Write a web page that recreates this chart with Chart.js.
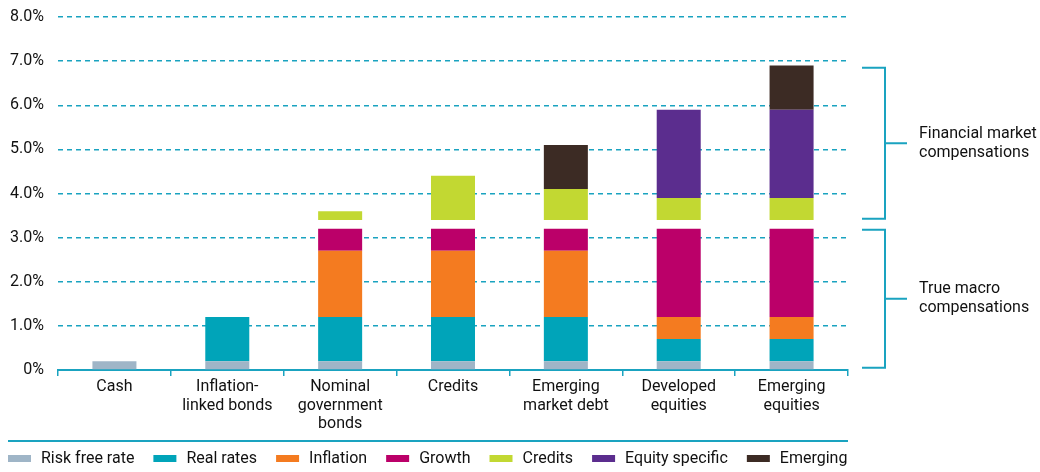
<!DOCTYPE html>
<html>
<head>
<meta charset="utf-8">
<script src="https://cdn.jsdelivr.net/npm/chart.js@4.4.0/dist/chart.umd.min.js"></script>
<style>
  html, body { margin: 0; padding: 0; background: #fff; }
  #wrap { width: 1040px; height: 472px; }
</style>
</head>
<body>
<div id="wrap"><canvas id="chart" width="1040" height="472"></canvas></div>
<script>
const categories = [
  "Cash",
  ["Inflation-", "linked bonds"],
  ["Nominal", "government", "bonds"],
  "Credits",
  ["Emerging", "market debt"],
  ["Developed", "equities"],
  ["Emerging", "equities"]
];

// true macro part, stacked up from 0
const riskFreeRate = [0.2, 0.2, 0.2, 0.2, 0.2, 0.2, 0.2];
const realRates    = [0,   1.0, 1.0, 1.0, 1.0, 0.5, 0.5];
const inflation    = [0,   0,   1.5, 1.5, 1.5, 0.5, 0.5];
const growth       = [0,   0,   0.5, 0.5, 0.5, 2.0, 2.0];
// financial market part, stacked up from 3.4
const credits        = [0, 0, 0.2, 1.0, 0.7, 0.5, 0.5];
const equitySpecific = [0, 0, 0,   0,   0,   2.0, 2.0];
const emerging       = [0, 0, 0,   0,   1.0, 0,   1.0];
const financialBase = 3.4;

const seriesNames = ["Risk free rate", "Real rates", "Inflation", "Growth", "Credits", "Equity specific", "Emerging"];
const yTickLabels = ["0%", "1.0%", "2.0%", "3.0%", "4.0%", "5.0%", "6.0%", "7.0%", "8.0%"];
const bracketLabels = [["Financial market", "compensations"], ["True macro", "compensations"]];
const bracketRanges = [[3.43, 6.85], [0.05, 3.18]];

const colors = ["#9fb5c7", "#00a4b9", "#f47b20", "#bb0069", "#c2d832", "#5b2d8e", "#3c2b24"];
const teal = "#1aa3c0";
const textColor = "#111111";
const FONT = "Roboto";

// turn segment sizes into [from, to] ranges
function floating(list, base) {
  const bottoms = categories.map(() => base);
  return list.map(s => s.map((v, i) => {
    if (!v) return null;
    const r = [bottoms[i], bottoms[i] + v];
    bottoms[i] += v;
    return r;
  }));
}

const ranges = floating([riskFreeRate, realRates, inflation, growth], 0)
  .concat(floating([credits, equitySpecific, emerging], financialBase));

const datasets = ranges.map((d, k) => ({
  label: seriesNames[k],
  data: d,
  backgroundColor: colors[k],
  borderWidth: 0,
  grouped: false,
  barPercentage: 0.39,
  categoryPercentage: 1
}));

const extras = {
  id: "extras",
  afterDraw(chart) {
    const ctx = chart.ctx;
    const y = chart.scales.y;
    const area = chart.chartArea;
    ctx.save();
    ctx.strokeStyle = teal;
    ctx.lineWidth = 2;
    ctx.font = "16px " + FONT;
    ctx.textBaseline = "middle";
    ctx.textAlign = "left";

    bracketRanges.forEach((r, k) => {
      const top = y.getPixelForValue(r[1]);
      const bot = y.getPixelForValue(r[0]);
      const mid = (top + bot) / 2;
      const x0 = area.right + 14, x1 = area.right + 37, x2 = area.right + 59;
      ctx.beginPath();
      ctx.moveTo(x0, top);
      ctx.lineTo(x1, top);
      ctx.lineTo(x1, bot);
      ctx.lineTo(x0, bot);
      ctx.moveTo(x1, mid);
      ctx.lineTo(x2, mid);
      ctx.stroke();
      ctx.fillStyle = textColor;
      bracketLabels[k].forEach((t, j) => ctx.fillText(t, area.right + 71, mid + (j - 0.5) * 19));
    });

    // legend
    ctx.beginPath();
    ctx.moveTo(8, 441);
    ctx.lineTo(area.right, 441);
    ctx.stroke();
    let x = 8;
    chart.data.datasets.forEach(ds => {
      ctx.fillStyle = ds.backgroundColor;
      ctx.fillRect(x, 455, 23, 7);
      ctx.fillStyle = textColor;
      ctx.fillText(ds.label, x + 33, 458.5);
      x += 33 + ctx.measureText(ds.label).width + 19;
    });
    ctx.restore();
  }
};

new Chart(document.getElementById("chart"), {
  type: "bar",
  data: { labels: categories, datasets: datasets },
  options: {
    responsive: false,
    animation: false,
    layout: { padding: { top: 17, right: 192, left: 0, bottom: 0 } },
    plugins: { legend: { display: false }, tooltip: { enabled: false } },
    scales: {
      x: {
        grid: { drawOnChartArea: false, drawTicks: true, tickLength: 6, color: teal, lineWidth: 1.5, offset: true },
        border: { color: teal, width: 2 },
        ticks: {
          color: textColor,
          font: { family: FONT, size: 16, lineHeight: 1.15 },
          padding: 2,
          maxRotation: 0,
          autoSkip: false
        },
        afterFit(s) { s.height = 102; }
      },
      y: {
        min: 0,
        max: 8,
        grid: { color: teal, lineWidth: 1.4, drawTicks: false },
        border: { display: false, dash: [5, 4] },
        ticks: {
          stepSize: 1,
          padding: 14,
          color: textColor,
          font: { family: FONT, size: 16 },
          callback: (v, i) => yTickLabels[i]
        },
        afterFit(s) { s.width = 58; s.paddingTop = 0; s.paddingBottom = 0; }
      }
    }
  },
  plugins: [extras]
});
</script>
</body>
</html>
